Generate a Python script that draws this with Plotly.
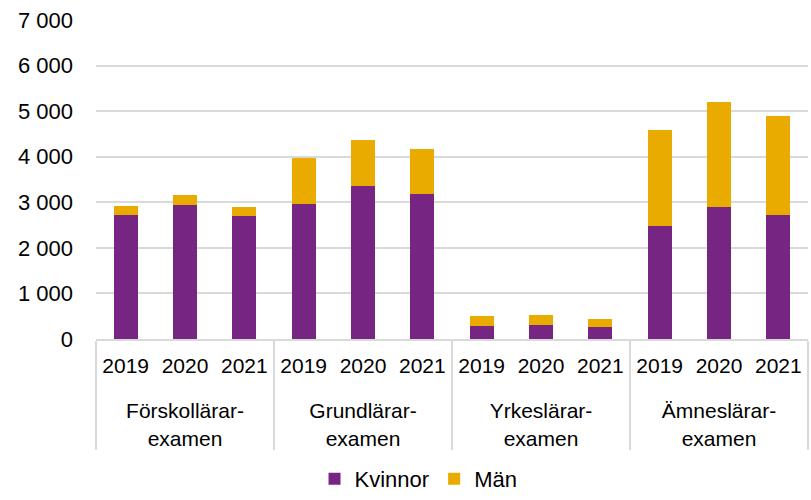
import plotly.graph_objects as go

groups = ["<br>Förskollärar-<br>examen", "<br>Grundlärar-<br>examen", "<br>Yrkeslärar-<br>examen", "<br>Ämneslärar-<br>examen"]
years = ["2019", "2020", "2021"]
kvinnor = [2720, 2950, 2690, 2970, 3365, 3190, 295, 315, 265, 2490, 2905, 2730]
man = [200, 220, 210, 1000, 995, 990, 210, 220, 180, 2100, 2290, 2170]

xg = [g for g in groups for _ in years]
xy = [y for _ in groups for y in years]

fig = go.Figure()
fig.add_trace(go.Bar(x=[xg, xy], y=kvinnor, name="Kvinnor", marker=dict(color="#772583", line=dict(width=0))))
fig.add_trace(go.Bar(x=[xg, xy], y=man, name="Män", marker=dict(color="#E9AB00", line=dict(width=0))))

fig.update_layout(
    barmode="stack",
    bargap=0.6,
    width=811, height=500,
    margin=dict(l=96, r=3, t=20, b=161, autoexpand=False),
    paper_bgcolor="white", plot_bgcolor="white",
    font=dict(family="Liberation Sans, Arial, sans-serif", size=22, color="#000000"),
    separators=", ",
    legend=dict(orientation="h", x=0.453, xanchor="center", yref="container", y=-0.014, yanchor="bottom",
                font=dict(size=22), itemwidth=30, traceorder="normal",
                bgcolor="rgba(0,0,0,0)", tracegroupgap=0),
    showlegend=True,
)
fig.update_yaxes(range=[0, 7000], dtick=1000, tickformat=",d", showgrid=True,
                 gridcolor="#d9d9d9", gridwidth=1.5, zeroline=False, ticks="",
                 ticklabelstandoff=22, showline=False, automargin=False)
fig.update_xaxes(type="multicategory", showline=True, linecolor="#d9d9d9", linewidth=1.5,
                 showdividers=True, dividercolor="#d9d9d9", dividerwidth=1.5, ticks="",
                 tickfont=dict(size=21), ticklabelstandoff=7, automargin=False)

fig.write_html("out.html", config={"displayModeBar": False},
               post_script="document.body.style.margin='0px';document.body.style.overflow='hidden';")
